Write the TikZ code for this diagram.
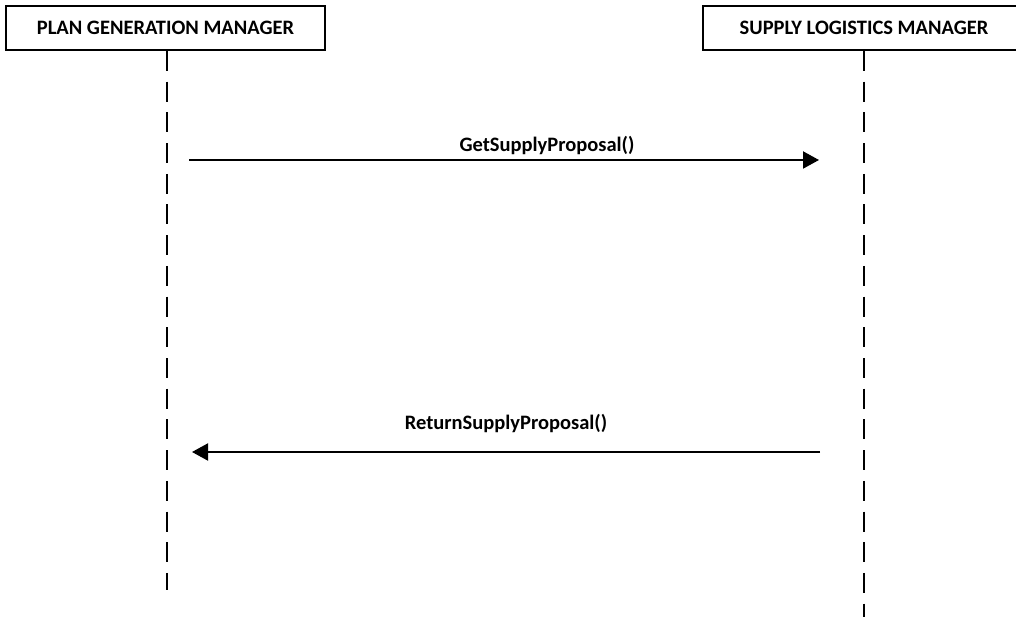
\documentclass[tikz,border=0pt]{standalone}
\usepackage{fontspec}
\setmainfont{Carlito}
\usetikzlibrary{arrows.meta}
\begin{document}
\begin{tikzpicture}[x=1pt,y=-1pt,
  font=\fontsize{20.5}{22}\selectfont\bfseries,
  actor/.style={draw, line width=2pt, fill=white, minimum height=44pt, inner sep=0pt},
  lifeline/.style={line width=2.4pt, dash pattern=on 20pt off 10.7pt},
  msg/.style={line width=2pt, -{Triangle[length=16pt,width=17pt]}},
  msglabel/.style={inner sep=0pt, anchor=base}]
  \useasboundingbox (0,0) rectangle (1016,617);
  % participants
  \node[actor, minimum width=319pt] (pgm) at (165.5,28) {PLAN GENERATION MANAGER};
  \node[actor, minimum width=322pt] (slm) at (864,28) {SUPPLY LOGISTICS MANAGER};
  % lifeline ends
  \coordinate (pgmEnd) at (167,590);
  \coordinate (slmEnd) at (864,620);
  \draw[lifeline] (pgm.south -| pgmEnd) -- (pgmEnd);
  \draw[lifeline] (slm.south) -- (slmEnd);
  % message anchor points
  \coordinate (getFrom) at (189,160);
  \coordinate (getTo) at (819,160);
  \coordinate (retFrom) at (820,452);
  \coordinate (retTo) at (192,452);
  \draw[msg] (getFrom) -- (getTo);
  \node[msglabel] (getLbl) at (547,152) {GetSupplyProposal()};
  \draw[msg] (retFrom) -- (retTo);
  \node[msglabel] (retLbl) at (506,429) {ReturnSupplyProposal()};
\end{tikzpicture}
\end{document}
